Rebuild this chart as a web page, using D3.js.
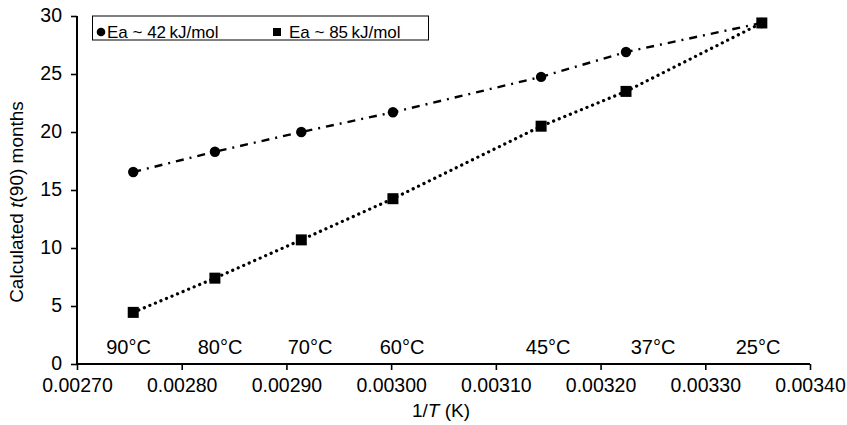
<!DOCTYPE html>
<html>
<head>
<meta charset="utf-8">
<script src="https://cdn.jsdelivr.net/npm/d3@7"></script>
<style>
  html, body { margin: 0; padding: 0; background: #fff; }
  svg { display: block; font-family: "Liberation Sans", Arial, Helvetica, sans-serif; }
</style>
</head>
<body>
<svg id="chart" width="847" height="425"></svg>
<script>
// ---- Data ----
const temperaturesC = [90, 80, 70, 60, 45, 37, 25];
const invT = [0.0027537, 0.0028317, 0.0029142, 0.0030017, 0.0031432, 0.0032243, 0.0033540];
const ea42 = [16.55, 18.3, 20.0, 21.7, 24.75, 26.9, 29.4];
const ea85 = [4.45, 7.4, 10.7, 14.25, 20.5, 23.5, 29.4];
const tempLabelX = [0.0027492, 0.0028366, 0.0029225, 0.0030104, 0.0031499, 0.0032501, 0.0033504];
const xTicks = [0.0027, 0.0028, 0.0029, 0.0030, 0.0031, 0.0032, 0.0033, 0.0034];
const yTicks = [0, 5, 10, 15, 20, 25, 30];
const seriesNames = ["Ea ~ 42\u2009kJ/mol", "Ea ~ 85\u2009kJ/mol"];

// ---- Chart ----
const svg = d3.select("#chart");
const x = d3.scaleLinear().domain([0.0027, 0.0034]).range([77, 810]);
const y = d3.scaleLinear().domain([0, 30]).range([364, 16]);

const xAxis = d3.axisBottom(x).tickValues(xTicks).tickFormat(d3.format(".5f")).tickSize(6).tickPadding(8);
const yAxis = d3.axisLeft(y).tickValues(yTicks).tickFormat(d3.format("d")).tickSize(6).tickPadding(9);

const gx = svg.append("g").attr("transform", `translate(0,${y(0)})`).call(xAxis);
const gy = svg.append("g").attr("transform", `translate(${x(0.0027)},0)`).call(yAxis);
[gx, gy].forEach(g => {
  g.select(".domain").attr("stroke", "#000").attr("stroke-width", 2);
  g.selectAll(".tick line").attr("stroke", "#000").attr("stroke-width", 1.6);
  g.selectAll(".tick text").attr("fill", "#000").attr("font-size", 19.5)
    .attr("font-family", "'Liberation Sans', Arial, sans-serif");
});
gy.selectAll(".tick text").attr("dy", "0.3em");
gx.select(".domain").attr("d", `M${x(0.0027)},0H${x(0.0034)}`);
gy.select(".domain").attr("d", `M0,${y(30)}V${y(0)}`);

// Axis titles
const yl = svg.append("text")
  .attr("transform", `translate(23,202) rotate(-90)`)
  .attr("text-anchor", "middle").attr("font-size", 19).attr("fill", "#000");
yl.append("tspan").text("Calculated ");
yl.append("tspan").attr("font-style", "italic").text("t");
yl.append("tspan").text("(90) months");

const xl = svg.append("text")
  .attr("x", 441).attr("y", 417)
  .attr("text-anchor", "middle").attr("font-size", 19).attr("fill", "#000");
xl.append("tspan").text("1/");
xl.append("tspan").attr("font-style", "italic").text("T");
xl.append("tspan").text(" (K)");

// Temperature labels
svg.append("g").selectAll("text")
  .data(temperaturesC)
  .join("text")
  .attr("x", (d, i) => x(tempLabelX[i]))
  .attr("y", 354)
  .attr("text-anchor", "middle")
  .attr("font-size", 20)
  .attr("fill", "#000")
  .text(d => d + "\u00B0C");

// Lines
const pts42 = invT.map((v, i) => [v, ea42[i]]);
const pts85 = invT.map((v, i) => [v, ea85[i]]);
const line = d3.line().x(d => x(d[0])).y(d => y(d[1]));

svg.append("path").datum(pts42).attr("d", line)
  .attr("fill", "none").attr("stroke", "#000").attr("stroke-width", 2.4)
  .attr("stroke-dasharray", "8,6,2,6");
svg.append("path").datum(pts85).attr("d", line)
  .attr("fill", "none").attr("stroke", "#000").attr("stroke-width", 3.2)
  .attr("stroke-linecap", "round").attr("stroke-dasharray", "0.1,5.9");

// Markers
svg.append("g").selectAll("circle")
  .data(pts42).join("circle")
  .attr("cx", d => x(d[0])).attr("cy", d => y(d[1])).attr("r", 5.2).attr("fill", "#000");
svg.append("g").selectAll("rect")
  .data(pts85).join("rect")
  .attr("x", d => x(d[0]) - 5.5).attr("y", d => y(d[1]) - 5.5)
  .attr("width", 11).attr("height", 11).attr("fill", "#000");

// Legend
const lg = svg.append("g");
lg.append("rect").attr("x", 92.5).attr("y", 16).attr("width", 336).attr("height", 24)
  .attr("fill", "#fff").attr("stroke", "#000").attr("stroke-width", 1);
lg.append("circle").attr("cx", 101).attr("cy", 32).attr("r", 4.3).attr("fill", "#000");
lg.append("text").attr("x", 107).attr("y", 37.5).attr("font-size", 17).attr("fill", "#000").text(seriesNames[0]);
lg.append("rect").attr("x", 273).attr("y", 28).attr("width", 8).attr("height", 8).attr("fill", "#000");
lg.append("text").attr("x", 289).attr("y", 37.5).attr("font-size", 17).attr("fill", "#000").text(seriesNames[1]);
</script>
</body>
</html>
